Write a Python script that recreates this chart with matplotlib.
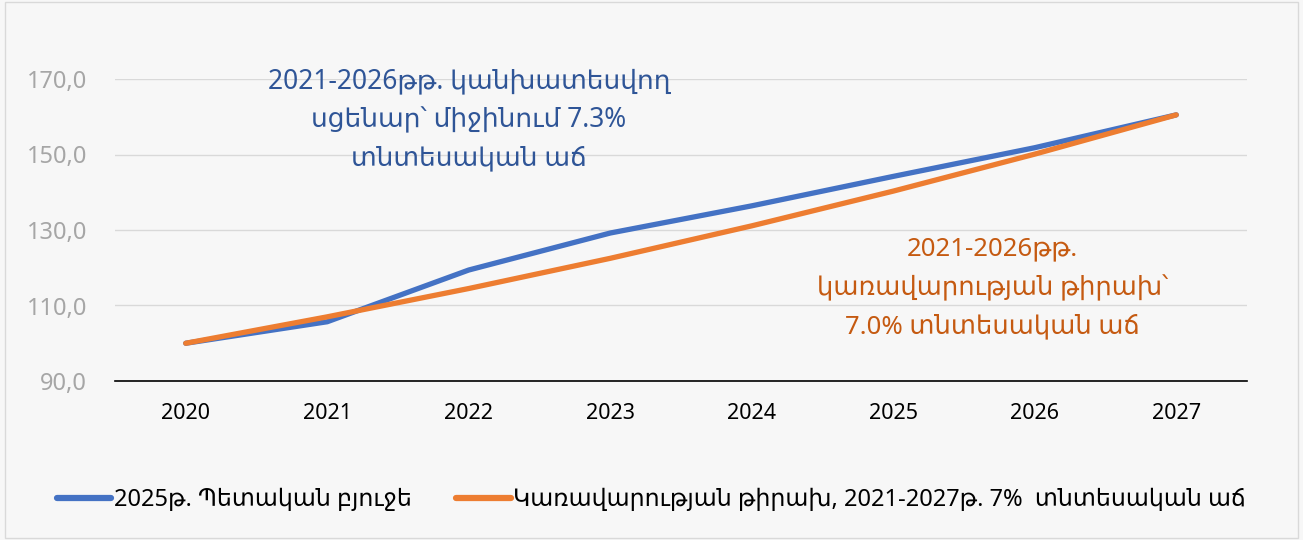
import matplotlib
matplotlib.use("Agg")
import matplotlib.pyplot as plt
from matplotlib.patches import Rectangle

years = [2020, 2021, 2022, 2023, 2024, 2025, 2026, 2027]
budget_2025 = [100.0, 105.7, 119.4, 129.2, 136.4, 144.2, 151.8, 160.5]
gov_target = [100.0, 107.0, 114.5, 122.5, 131.1, 140.3, 150.1, 160.5]
yticks = [90, 110, 130, 150, 170]

label_blue = "2025թ. Պետական բյուջե"
label_orange = "Կառավարության թիրախ, 2021-2027թ. 7%  տնտեսական աճ"
note_blue = "2021-2026թթ. կանխատեսվող\nսցենար՝ միջինում 7.3%\nտնտեսական աճ"
note_orange = "2021-2026թթ.\nկառավարության թիրախ՝\n7.0% տնտեսական աճ"

plt.rcParams['font.family'] = ['Noto Sans', 'DejaVu Sans']

bg = '#f7f7f7'
fig = plt.figure(figsize=(13.03, 5.40), dpi=100, facecolor=bg)
fig.patches.append(Rectangle((0.004, 0.004), 0.992, 0.992, transform=fig.transFigure,
                             fill=False, edgecolor='#d9d9d9', linewidth=1))
ax = fig.add_axes([115/1303, 1 - 381/540, (1247 - 115)/1303, (381 - 79)/540])
ax.set_facecolor(bg)

ax.plot(years, budget_2025, color='#4472c4', lw=3.8, solid_capstyle='round', label=label_blue, zorder=3)
ax.plot(years, gov_target, color='#ed7d31', lw=3.8, solid_capstyle='round', label=label_orange, zorder=3)

ax.set_xlim(2019.5, 2027.5)
ax.set_ylim(90, 170)
ax.set_yticks(yticks)
ax.set_yticklabels([f"{v},0" for v in yticks], color='#a6a6a6', fontsize=17)
ax.set_xticks(years)
ax.set_xticklabels([str(y) for y in years], fontsize=15.5, color='black')
ax.tick_params(length=0)
ax.tick_params(axis='x', pad=16)
ax.tick_params(axis='y', pad=20)
ax.grid(axis='y', color='#d9d9d9', lw=1)
ax.set_axisbelow(True)
for s in ['top', 'right', 'left']:
    ax.spines[s].set_visible(False)
ax.spines['bottom'].set_color('black')
ax.spines['bottom'].set_linewidth(1.2)

ax.text(2022.0, 173.0, note_blue, color='#2f5597', fontsize=19, ha='center', va='top',
        linespacing=1.5, clip_on=False)
ax.text(2025.7, 128.2, note_orange, color='#c55a11', fontsize=18.5, ha='center', va='top',
        linespacing=1.65)

leg = fig.legend(loc='center', bbox_to_anchor=(0.5, 1 - 500/540), ncol=2, frameon=False,
                 fontsize=17, handlelength=2.3, handletextpad=0.1, columnspacing=1.9)
for line in leg.get_lines():
    line.set_linewidth(4.5)

fig.savefig('out.png', dpi=100, facecolor=bg)
